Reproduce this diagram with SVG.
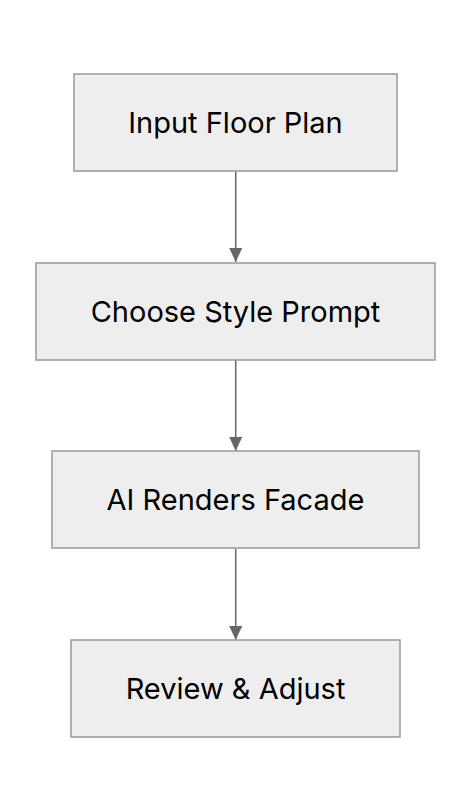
<svg xmlns="http://www.w3.org/2000/svg" width="472" height="812" viewBox="0 0 472 812">
<style>
.node rect{fill:#eeeeee;stroke:#999999;stroke-width:1.5}
.node text{font-family:Inter,"Noto Sans",sans-serif;font-size:29px;fill:#000;text-anchor:middle}
.edge{stroke:#666666;stroke-width:1.5;fill:none}
</style>
<defs>
<marker id="arrow" markerWidth="14" markerHeight="13" refX="14" refY="6.5" orient="auto" markerUnits="userSpaceOnUse">
<path d="M0,0 L14,6.5 L0,13 Z" fill="#666666"/>
</marker>
</defs>
<rect width="472" height="812" fill="#ffffff"/>
<g id="connectors">
<line class="edge" x1="235.7" y1="171" x2="235.7" y2="262" marker-end="url(#arrow)"/>
<line class="edge" x1="235.7" y1="360" x2="235.7" y2="451" marker-end="url(#arrow)"/>
<line class="edge" x1="235.7" y1="549" x2="235.7" y2="640" marker-end="url(#arrow)"/>
</g>
<g id="n1" class="node">
<rect x="74" y="74" width="323" height="97"/>
<text x="235.5" y="133">Input Floor Plan</text>
</g>
<g id="n2" class="node">
<rect x="36" y="263" width="399" height="97"/>
<text x="235.5" y="322">Choose Style Prompt</text>
</g>
<g id="n3" class="node">
<rect x="52" y="451" width="367" height="97"/>
<text x="235.5" y="510">AI Renders Facade</text>
</g>
<g id="n4" class="node">
<rect x="71" y="640" width="329" height="97"/>
<text x="235.5" y="699">Review &amp; Adjust</text>
</g>
</svg>
